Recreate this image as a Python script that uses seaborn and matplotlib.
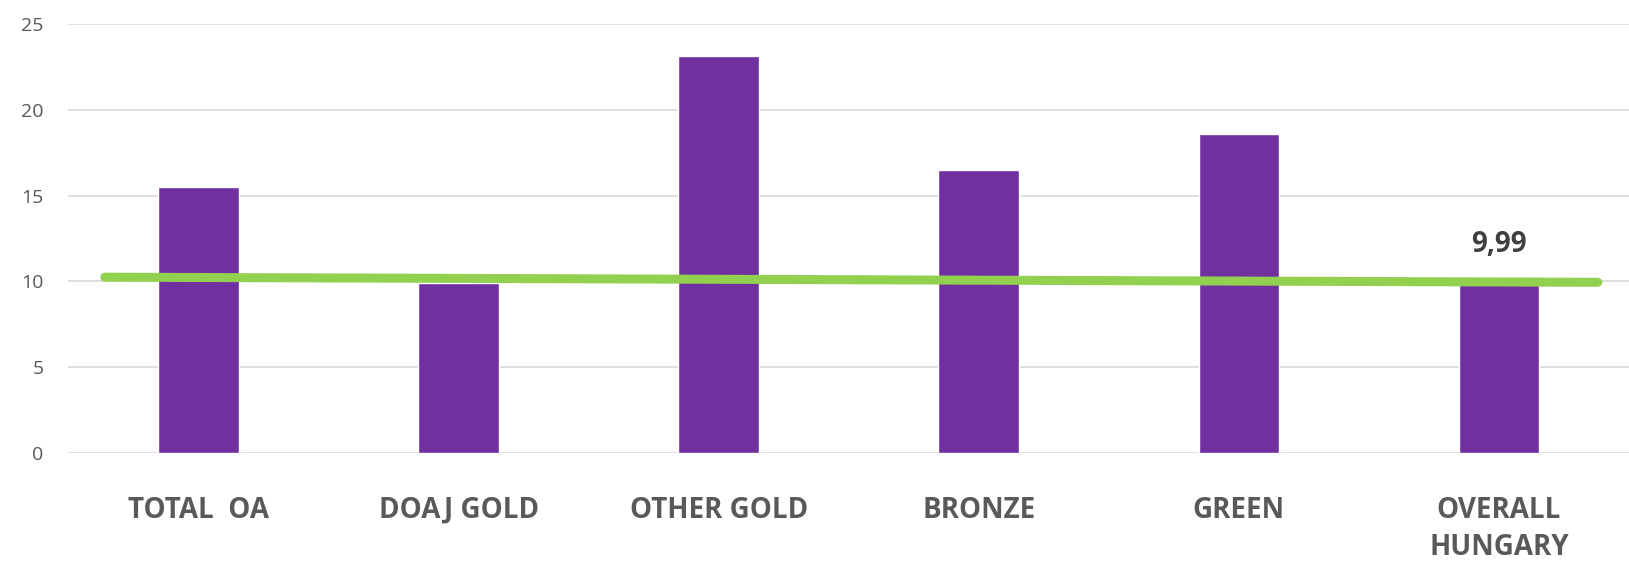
#!/usr/bin/env python3

import numpy as np
import matplotlib.pyplot as plt
import pandas as pd
import seaborn as sns

categories = ['TOTAL  OA', 'DOAJ GOLD', 'OTHER GOLD', 'BRONZE', 'GREEN', 'OVERALL\nHUNGARY']
values = [15.5, 9.9, 23.15, 16.5, 18.6, 9.99]

# green reference line (start / end)
line_pos = [-0.36, 5.38]
line_vals = [10.25, 9.95]

df = pd.DataFrame({'category': categories, 'value': values})

sns.set_style('white')
plt.rcParams['font.family'] = ['Open Sans', 'DejaVu Sans']

fig, ax = plt.subplots(figsize=(16.29, 5.62), dpi=100)
fig.subplots_adjust(left=0.042, right=1.0, bottom=0.194, top=0.957)

g = sns.barplot(df, x='category', y='value', ax=ax, color='#7030A0', width=0.31, saturation=1)
sns.lineplot(x=line_pos, y=line_vals, ax=ax, color='#92D050', linewidth=6.5, zorder=3)

ax.set_ylim(0, 25)
ax.set_xlim(-0.5, 5.5)
ax.set_yticks(range(0, 26, 5))
ax.yaxis.grid(True, color='#D9D9D9', linewidth=1.2)
ax.set_axisbelow(True)
sns.despine(ax=ax, left=True, bottom=True)
ax.set_xlabel('')
ax.set_ylabel('')
ax.tick_params(axis='both', length=0)
ax.tick_params(axis='y', labelsize=14, labelcolor='#595959', pad=18)
ax.tick_params(axis='x', pad=31)
for t in ax.get_xticklabels():
    t.set_fontsize(20)
    t.set_fontweight('bold')
    t.set_color('#595959')
    t.set_linespacing(1.35)
    t.set_verticalalignment('top')

labels = [''] * (len(values) - 1) + ['9,99']
ax.bar_label(ax.containers[0], labels=labels, padding=16, fontsize=20,
             fontweight='bold', color='#404040')

plt.savefig('out.png')
